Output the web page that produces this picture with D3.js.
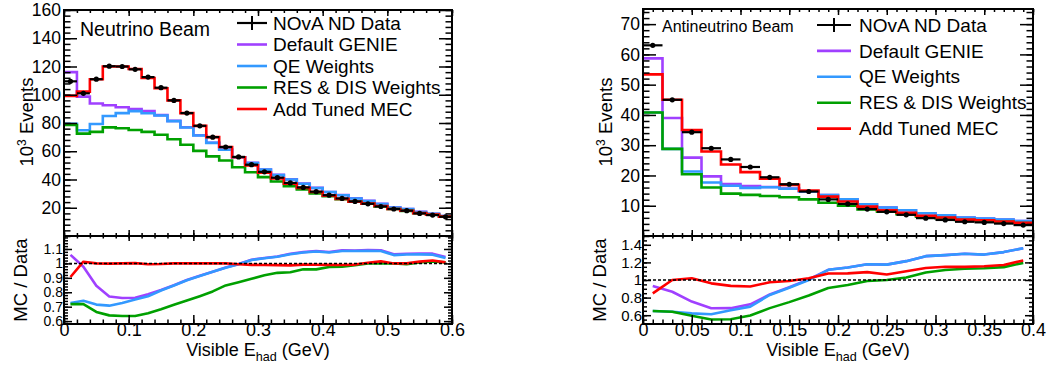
<!DOCTYPE html>
<html><head><meta charset="utf-8">
<script src="https://cdn.jsdelivr.net/npm/d3@7"></script>
<style>body{margin:0;background:#fff}svg{display:block;font-family:"Liberation Sans",Arial,Helvetica,sans-serif}</style>
</head><body><svg id="c" width="1050" height="369"></svg>
<script>
const legendLabels = ["NOvA ND Data","Default GENIE","QE Weights","RES & DIS Weights","Add Tuned MEC"];
const seriesColors = ["#000000","#a040ff","#3399ff","#00a000","#ff0000"];

// ---- Neutrino beam (left) : 30 bins of 0.02 GeV, values in 10^3 events
const nuXMax = 0.6;
const nuData   = [109.5,101.0,111.0,120.2,120.0,118.0,112.5,105.0,96.0,87.0,78.0,70.0,63.0,56.0,50.5,45.4,41.3,37.6,34.4,31.4,28.9,26.6,24.5,22.8,20.9,19.1,17.9,16.0,14.8,13.6];
const nuGenie  = [116.0,98.7,93.8,92.6,91.2,89.9,88.5,85.6,81.5,77.0,71.3,66.0,61.2,55.8,51.8,47.1,43.3,40.1,37.1,34.1,31.2,29.0,26.7,24.9,22.8,20.3,19.1,17.1,15.8,14.2];
const nuQE     = [79.4,74.9,79.3,85.0,87.0,88.4,86.9,85.3,81.3,76.8,71.2,65.9,61.1,55.7,51.7,47.0,43.2,40.0,37.0,34.0,31.1,28.9,26.6,24.8,22.7,20.2,19.0,17.0,15.7,14.1];
const nuResDis = [78.6,72.5,73.7,76.9,76.3,75.0,73.7,71.7,68.5,64.6,60.3,56.4,53.4,48.7,45.1,41.7,38.6,35.3,33.0,30.1,28.2,26.0,24.2,22.8,20.9,19.1,17.8,16.1,15.0,13.7];
const nuMEC    = [99.2,102.2,111.0,120.0,120.0,118.2,111.9,104.6,96.0,87.0,78.0,70.0,63.0,55.7,50.0,44.9,40.8,37.1,34.1,31.1,28.6,26.3,24.3,22.9,21.2,19.1,17.9,16.2,15.1,13.7];
const nuXTicks = [0,0.1,0.2,0.3,0.4,0.5,0.6];
const nuYTicks = [20,40,60,80,100,120,140,160];
const nuRatioTicks = [0.6,0.7,0.8,0.9,1,1.1];

// ---- Antineutrino beam (right) : 20 bins of 0.02 GeV
const anuXMax = 0.4;
const anuData   = [63.0,45.0,34.3,29.0,25.3,22.8,19.4,17.1,14.7,12.1,10.6,8.9,8.0,7.0,5.9,5.3,4.7,4.5,4.1,3.6];
const anuGenie  = [58.7,39.0,25.9,19.7,17.2,16.5,16.2,15.7,14.8,13.5,12.1,10.5,9.4,8.5,7.5,6.8,6.1,5.8,5.4,4.9];
const anuQE     = [40.8,28.8,21.3,17.7,16.6,15.9,16.1,15.6,14.7,13.5,12.1,10.5,9.4,8.5,7.5,6.8,6.1,5.8,5.4,4.9];
const anuResDis = [40.8,28.8,20.4,16.0,14.0,13.6,13.2,12.8,12.1,11.0,10.0,8.8,8.0,7.2,6.4,5.9,5.3,5.1,4.7,4.3];
const anuMEC    = [53.4,45.0,35.0,27.9,23.6,21.1,18.9,16.9,15.0,13.0,11.4,9.7,8.5,7.7,6.7,6.1,5.4,5.2,4.8,4.4];
const anuXTicks = [0,0.05,0.1,0.15,0.2,0.25,0.3,0.35,0.4];
const anuYTicks = [10,20,30,40,50,60,70];
const anuRatioTicks = [0.6,0.8,1,1.2,1.4];

const svg = d3.select("#c");
const FONT = '"Liberation Sans",Arial,Helvetica,sans-serif';

function frame(g, x, yS, box, o) {
  const add = (axis, tr, vals, len, fmt, pad) => {
    const a = g.append("g").attr("transform", tr)
      .call(axis.tickValues(vals).tickSize(-len).tickPadding(pad).tickFormat(fmt || (() => "")));
    a.select(".domain").remove();
    a.selectAll("line").attr("stroke", "#000").attr("stroke-width", 1.5);
    return a;
  };
  const xb = add(d3.axisBottom(x), `translate(0,${box.b})`, o.xMaj, o.xLenB, o.xFmt, o.xPad);
  add(d3.axisBottom(x), `translate(0,${box.b})`, o.xMin, o.xLenB / 2, null, 0);
  add(d3.axisTop(x), `translate(0,${box.t})`, o.xMaj, o.xLenT, null, 0);
  add(d3.axisTop(x), `translate(0,${box.t})`, o.xMin, o.xLenT / 2, null, 0);
  const yl = add(d3.axisLeft(yS), `translate(${box.l},0)`, o.yMaj, o.yLen, o.yFmt, o.yPad);
  add(d3.axisLeft(yS), `translate(${box.l},0)`, o.yMin, o.yLen / 2, null, 0);
  add(d3.axisRight(yS), `translate(${box.r},0)`, o.yMaj, o.yLen, null, 0);
  add(d3.axisRight(yS), `translate(${box.r},0)`, o.yMin, o.yLen / 2, null, 0);
  xb.selectAll("text").attr("font-size", o.xFont).attr("font-family", FONT).attr("fill", "#000");
  yl.selectAll("text").attr("font-size", o.yFont).attr("font-family", FONT).attr("fill", "#000");
  g.append("rect").attr("x", box.l).attr("y", box.t).attr("width", box.r - box.l).attr("height", box.b - box.t)
    .attr("fill", "none").attr("stroke", "#000").attr("stroke-width", 2);
}

function drawPanel(c) {
  const g = svg.append("g");
  const n = c.data.length, bw = c.xMax / n;
  const x = d3.scaleLinear().domain([0, c.xMax]).range([c.left, c.right]);
  const y = d3.scaleLinear().domain([0, c.yMax]).range([c.split, c.top]);
  const r = d3.scaleLinear().domain(c.rDom).range([c.bottom, c.split]);
  const defs = g.append("defs");
  defs.append("clipPath").attr("id", c.id + "t").append("rect")
    .attr("x", c.left).attr("y", c.top).attr("width", c.right - c.left).attr("height", c.split - c.top);
  defs.append("clipPath").attr("id", c.id + "r").append("rect")
    .attr("x", c.left).attr("y", c.split).attr("width", c.right - c.left).attr("height", c.bottom - c.split);

  // top histograms
  const top = g.append("g").attr("clip-path", `url(#${c.id}t)`);
  const stepLine = d3.line().x(d => x(d[0])).y(d => y(d[1])).curve(d3.curveStepAfter);
  c.mc.forEach((vals, k) => {
    const pts = vals.map((v, i) => [i * bw, v]);
    pts.push([n * bw, vals[n - 1]]);
    top.append("path").attr("d", stepLine(pts)).attr("fill", "none")
      .attr("stroke", seriesColors[k + 1]).attr("stroke-width", 2.6);
  });
  c.data.forEach((v, i) => {
    top.append("line").attr("x1", x(i * bw)).attr("x2", x((i + 1) * bw))
      .attr("y1", y(v)).attr("y2", y(v)).attr("stroke", "#000").attr("stroke-width", 2.2);
    top.append("circle").attr("cx", x((i + 0.5) * bw)).attr("cy", y(v)).attr("r", 2.6).attr("fill", "#000");
  });

  // ratio
  const rg = g.append("g").attr("clip-path", `url(#${c.id}r)`);
  const rl = d3.line().x(d => x(d[0])).y(d => r(d[1]));
  c.mc.forEach((vals, k) => {
    rg.append("path").attr("d", rl(vals.map((v, i) => [(i + 0.5) * bw, v / c.data[i]])))
      .attr("fill", "none").attr("stroke", seriesColors[k + 1]).attr("stroke-width", 2.6)
      .attr("stroke-linejoin", "round");
  });
  rg.append("line").attr("x1", x(0)).attr("x2", x(c.xMax)).attr("y1", r(1)).attr("y2", r(1))
    .attr("stroke", "#000").attr("stroke-width", 1.5).attr("stroke-dasharray", "3,2");

  // frames
  frame(g, x, y, {l: c.left, r: c.right, t: c.top, b: c.split}, {
    xMaj: c.xTicks, xMin: d3.range(0, c.xMax + 1e-9, c.xMinStep), xLenB: 6, xLenT: 6, xPad: 0,
    yMaj: c.yTicks, yMin: d3.range(0, c.yMax + 1e-9, c.yMinStep), yLen: 13,
    yFmt: d => String(d), yFont: 17.5, yPad: 3
  });
  frame(g, x, r, {l: c.left, r: c.right, t: c.split, b: c.bottom}, {
    xMaj: c.xTicks, xMin: d3.range(0, c.xMax + 1e-9, c.xMinStep), xLenB: 9, xLenT: 5, xPad: -1,
    yMaj: c.rTicks, yMin: d3.range(0.5, 1.6, c.rMinStep).filter(v => v > c.rDom[0] && v < c.rDom[1]), yLen: 8,
    xFmt: d => String(d), yFmt: d => String(d), xFont: 18, yFont: c.rFont, yPad: 1
  });

  // titles
  const yt = g.append("text").attr("transform", `translate(${c.left - 31},122) rotate(-90)`)
    .attr("text-anchor", "middle").attr("font-size", 18.5).attr("fill", "#000");
  yt.append("tspan").text("10");
  yt.append("tspan").attr("font-size", 12).attr("dy", -7).text("3");
  yt.append("tspan").attr("dy", 7).text(" Events");
  g.append("text").attr("transform", `translate(${c.left - 37},280) rotate(-90)`)
    .attr("text-anchor", "middle").attr("font-size", 18.5).attr("fill", "#000").text("MC / Data");
  const xt = g.append("text").attr("x", (c.left + c.right) / 2).attr("y", 356)
    .attr("text-anchor", "middle").attr("font-size", 18).attr("fill", "#000");
  xt.append("tspan").text("Visible E");
  xt.append("tspan").attr("font-size", 12.6).attr("dy", 5).text("had");
  xt.append("tspan").attr("dy", -5).text(" (GeV)");

  g.append("text").attr("x", c.beamX).attr("y", c.beamY).attr("font-size", c.beamSize)
    .attr("fill", "#000").text(c.beam);

  // legend
  legendLabels.forEach((lab, k) => {
    const ly = c.legY + k * c.legDy;
    g.append("line").attr("x1", c.legX0).attr("x2", c.legX1).attr("y1", ly).attr("y2", ly)
      .attr("stroke", seriesColors[k]).attr("stroke-width", k === 0 ? 2.2 : 2.6);
    if (k === 0) {
      const mx = (c.legX0 + c.legX1) / 2;
      g.append("line").attr("x1", mx).attr("x2", mx).attr("y1", ly - 7).attr("y2", ly + 7)
        .attr("stroke", "#000").attr("stroke-width", 2);
    }
    g.append("text").attr("x", c.legText).attr("y", ly).attr("dy", "0.35em")
      .attr("font-size", 19).attr("fill", "#000").text(lab);
  });
}

drawPanel({
  id: "nu", left: 64, right: 452, top: 10, split: 236, bottom: 324,
  xMax: nuXMax, yMax: 160, rDom: [0.58, 1.19],
  data: nuData, mc: [nuGenie, nuQE, nuResDis, nuMEC],
  xTicks: nuXTicks, xMinStep: 0.02, yTicks: nuYTicks, yMinStep: 4,
  rTicks: nuRatioTicks, rMinStep: 0.02, rFont: 14,
  beam: "Neutrino Beam", beamX: 80, beamY: 36, beamSize: 19.5,
  legX0: 237, legX1: 267, legText: 273, legY: 23, legDy: 21.5
});
drawPanel({
  id: "anu", left: 643, right: 1033, top: 9, split: 236, bottom: 324,
  xMax: anuXMax, yMax: 75, rDom: [0.5, 1.5],
  data: anuData, mc: [anuGenie, anuQE, anuResDis, anuMEC],
  xTicks: anuXTicks, xMinStep: 0.01, yTicks: anuYTicks, yMinStep: 2,
  rTicks: anuRatioTicks, rMinStep: 0.05, rFont: 15,
  beam: "Antineutrino Beam", beamX: 662, beamY: 32, beamSize: 16,
  legX0: 817, legX1: 851, legText: 859, legY: 25, legDy: 25.9
});
</script></body></html>
